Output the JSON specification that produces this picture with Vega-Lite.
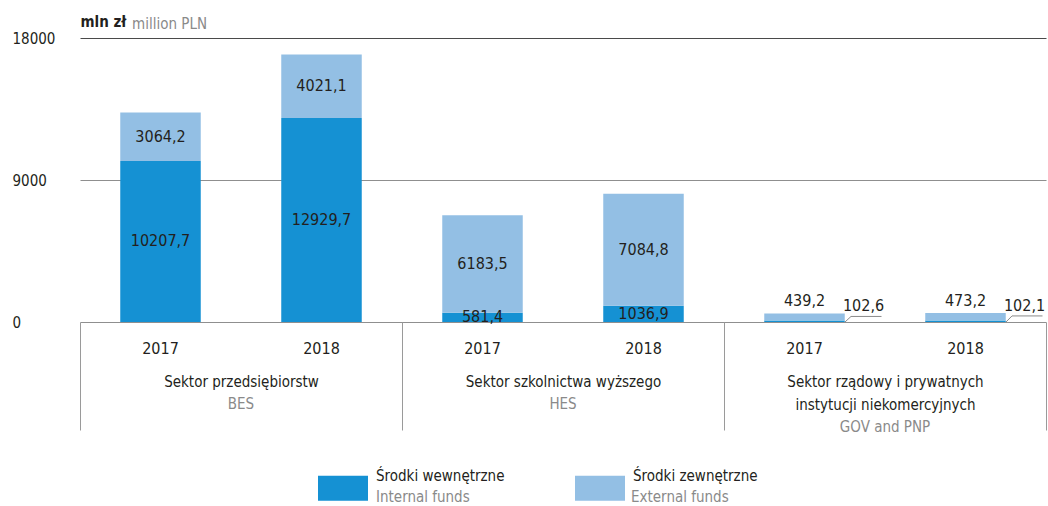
{
  "$schema": "https://vega.github.io/schema/vega-lite/v6.json",
  "width": 966,
  "height": 284,
  "autosize": {"type": "none"},
  "padding": {"left": 80, "top": 38, "right": 2, "bottom": 184},
  "background": "white",
  "title": {
    "text": "million PLN",
    "anchor": "start",
    "frame": "group",
    "dx": 52,
    "dy": 22,
    "color": "#8a8a8a",
    "fontSize": 15,
    "fontWeight": "normal",
    "font": "'Liberation Sans Narrow', 'DejaVu Sans Condensed', sans-serif"
  },
  "config": {
    "font": "'Liberation Sans Narrow', 'DejaVu Sans Condensed', sans-serif",
    "view": {"stroke": null},
    "locale": {"number": {"decimal": ",", "thousands": "", "grouping": [3], "currency": ["", ""]}},
    "axis": {"labelFontSize": 15, "labelColor": "#231f20", "labelLimit": 500, "labelOverlap": false, "labelBound": false},
    "legend": {"labelFontSize": 15, "labelLimit": 500}
  },
  "datasets": {
    "funds": [
      {"slot": "BES 2017", "sector": "BES", "fund": "Środki wewnętrzne", "fundEn": "Internal funds", "value": 10207.7},
      {"slot": "BES 2017", "sector": "BES", "fund": "Środki zewnętrzne", "fundEn": "External funds", "value": 3064.2},
      {"slot": "BES 2018", "sector": "BES", "fund": "Środki wewnętrzne", "fundEn": "Internal funds", "value": 12929.7},
      {"slot": "BES 2018", "sector": "BES", "fund": "Środki zewnętrzne", "fundEn": "External funds", "value": 4021.1},
      {"slot": "HES 2017", "sector": "HES", "fund": "Środki wewnętrzne", "fundEn": "Internal funds", "value": 581.4},
      {"slot": "HES 2017", "sector": "HES", "fund": "Środki zewnętrzne", "fundEn": "External funds", "value": 6183.5},
      {"slot": "HES 2018", "sector": "HES", "fund": "Środki wewnętrzne", "fundEn": "Internal funds", "value": 1036.9},
      {"slot": "HES 2018", "sector": "HES", "fund": "Środki zewnętrzne", "fundEn": "External funds", "value": 7084.8},
      {"slot": "GOV 2017", "sector": "GOV", "fund": "Środki wewnętrzne", "fundEn": "Internal funds", "value": 102.6},
      {"slot": "GOV 2017", "sector": "GOV", "fund": "Środki zewnętrzne", "fundEn": "External funds", "value": 439.2},
      {"slot": "GOV 2018", "sector": "GOV", "fund": "Środki wewnętrzne", "fundEn": "Internal funds", "value": 102.1},
      {"slot": "GOV 2018", "sector": "GOV", "fund": "Środki zewnętrzne", "fundEn": "External funds", "value": 473.2}
    ]
  },
  "layer": [
    {
      "data": {"name": "funds"},
      "transform": [
        {"joinaggregate": [{"op": "sum", "field": "value", "as": "total"}], "groupby": ["slot"]}
      ],
      "layer": [
        {
          "mark": {"type": "bar"},
          "encoding": {
            "x": {
              "field": "slot", "type": "nominal", "sort": null, "title": null,
              "scale": {"paddingInner": 0.5, "paddingOuter": 0.25},
              "axis": {
                "orient": "bottom", "domain": false, "ticks": false,
                "labelAngle": 0, "labelPadding": 18, "labelExpr": "slice(datum.value, -4)",
                "labelFontSize": 16
              }
            },
            "y": {
              "field": "value", "type": "quantitative", "stack": "zero", "title": "mln zł",
              "scale": {"domain": [0, 18000], "nice": false},
              "axis": {
                "values": [0, 9000, 18000], "grid": true, "domain": false, "ticks": false, "tickSize": 0,
                "labelAlign": "left", "labelBaseline": "middle", "labelPadding": 68, "labelFlush": false,
                "labelFontSize": 15,
                "gridColor": {"condition": {"test": "datum.value === 18000", "value": "#4a4a4a"}, "value": "#8f8f8f"},
                "gridWidth": 1,
                "titleAngle": 0, "titleX": 0, "titleY": -17,
                "titleAlign": "left", "titleBaseline": "middle", "titleFontWeight": "bold",
                "titleFontSize": 15, "titleColor": "#231f20"
              }
            },
            "order": {"field": "fund", "sort": "ascending"},
            "color": {
              "field": "fund", "type": "nominal",
              "scale": {"domain": ["Środki wewnętrzne", "Środki zewnętrzne"], "range": ["#1591d3", "#93bfe4"]},
              "legend": {
                "orient": "none", "legendX": 238, "legendY": 421, "direction": "horizontal",
                "title": null, "symbolType": "M-1,-0.34H1V0.66H-1Z", "symbolSize": 2500,
                "symbolStrokeWidth": 0, "symbolOpacity": 1, "labelColor": "#231f20", "labelOffset": 8,
                "columnPadding": 70, "labelBaseline": "bottom", "labelFontSize": 15
              }
            }
          }
        },
        {
          "mark": {"type": "point", "opacity": 0},
          "encoding": {
            "x": {"field": "slot", "type": "nominal", "sort": null, "title": null},
            "y": {"field": "value", "type": "quantitative", "title": "mln zł"},
            "shape": {
              "field": "fundEn", "type": "nominal",
              "scale": {"domain": ["Internal funds", "External funds"], "range": ["M-1,-0.5H1V0.5H-1Z", "M-1,-0.5H1V0.5H-1Z"]},
              "legend": {
                "orient": "none", "legendX": 238, "legendY": 427, "direction": "horizontal",
                "title": null, "symbolSize": 2500, "symbolOpacity": 0, "symbolStrokeWidth": 0,
                "symbolFillColor": "transparent", "symbolStrokeColor": "transparent",
                "labelColor": "#8a8a8a", "labelOffset": 8, "columnPadding": 103,
                "labelBaseline": "top", "labelFontSize": 15
              }
            }
          }
        },
        {
          "transform": [
            {"filter": "datum.sector !== 'GOV'"},
            {"stack": "value", "groupby": ["slot"], "sort": [{"field": "fund", "order": "ascending"}], "as": ["v0", "v1"]},
            {"calculate": "(datum.v0 + datum.v1) / 2", "as": "mid"}
          ],
          "mark": {"type": "text", "fontSize": 16, "color": "#231f20", "baseline": "middle", "align": "center"},
          "encoding": {
            "x": {"field": "slot", "type": "nominal", "sort": null, "title": null},
            "y": {"field": "mid", "type": "quantitative", "title": "mln zł"},
            "text": {"field": "value", "type": "quantitative", "format": ".1f"}
          }
        },
        {
          "transform": [{"filter": "datum.sector === 'GOV' && datum.fund === 'Środki zewnętrzne'"}],
          "mark": {"type": "text", "fontSize": 16, "color": "#231f20", "baseline": "middle", "align": "center", "dy": -12},
          "encoding": {
            "x": {"field": "slot", "type": "nominal", "sort": null, "title": null},
            "y": {"field": "total", "type": "quantitative", "title": "mln zł"},
            "text": {"field": "value", "type": "quantitative", "format": ".1f"}
          }
        },
        {
          "transform": [{"filter": "datum.sector === 'GOV' && datum.fund === 'Środki wewnętrzne'"}],
          "mark": {"type": "text", "fontSize": 16, "color": "#231f20", "baseline": "middle", "align": "center", "dx": 59, "dy": -7},
          "encoding": {
            "x": {"field": "slot", "type": "nominal", "sort": null, "title": null},
            "y": {"field": "total", "type": "quantitative", "title": "mln zł"},
            "text": {"field": "value", "type": "quantitative", "format": ".1f"}
          }
        },
        {
          "transform": [{"filter": "datum.sector === 'GOV' && datum.fund === 'Środki wewnętrzne'"}],
          "mark": {"type": "rule", "color": "#8a8a8a", "strokeWidth": 1, "xOffset": 46.5, "x2Offset": 77, "yOffset": 3},
          "encoding": {
            "x": {"field": "slot", "type": "nominal", "sort": null, "title": null},
            "x2": {"field": "slot"},
            "y": {"field": "total", "type": "quantitative", "title": "mln zł"}
          }
        },
        {
          "transform": [{"filter": "datum.sector === 'GOV' && datum.fund === 'Środki wewnętrzne'"}],
          "mark": {"type": "rule", "color": "#8a8a8a", "strokeWidth": 1, "xOffset": 46.5, "x2Offset": 40.5, "yOffset": 3},
          "encoding": {
            "x": {"field": "slot", "type": "nominal", "sort": null, "title": null},
            "x2": {"field": "slot"},
            "y": {"field": "total", "type": "quantitative", "title": "mln zł"},
            "y2": {"datum": 0}
          }
        }
      ]
    },
    {
      "data": {"values": [
        {"name": "Sektor przedsiębiorstw"},
        {"name": "Sektor szkolnictwa wyższego"},
        {"name": "Sektor rządowy i prywatnych|instytucji niekomercyjnych"}
      ]},
      "mark": {"type": "point", "opacity": 0},
      "encoding": {
        "x": {
          "field": "name", "type": "nominal", "sort": null, "title": null,
          "scale": {"type": "band", "paddingInner": 0, "paddingOuter": 0},
          "axis": {
            "orient": "bottom", "domain": false, "ticks": true, "tickBand": "extent",
            "tickSize": 108, "tickColor": "#9a9a9a", "tickWidth": 1, "labelAngle": 0,
            "labelPadding": -56, "labelLineHeight": 23,
            "labelExpr": "datum.value ? split(datum.value, '|') : ''",
            "labelFontSize": 15, "labelColor": "#231f20"
          }
        }
      }
    },
    {
      "data": {"values": [
        {"abbr": "BES"},
        {"abbr": "HES"},
        {"abbr": "GOV and PNP"}
      ]},
      "mark": {"type": "point", "opacity": 0},
      "encoding": {
        "x": {
          "field": "abbr", "type": "nominal", "sort": null, "title": null,
          "scale": {"type": "band", "paddingInner": 0, "paddingOuter": 0},
          "axis": {
            "orient": "bottom", "domain": false, "ticks": false, "labelAngle": 0,
            "labelPadding": 74, "labelLineHeight": 23,
            "labelExpr": "datum.value === 'GOV and PNP' ? [' ', datum.value] : datum.value",
            "labelFontSize": 15, "labelColor": "#8a8a8a"
          }
        }
      }
    }
  ],
  "resolve": {"scale": {"x": "independent"}, "axis": {"x": "independent"}}
}
